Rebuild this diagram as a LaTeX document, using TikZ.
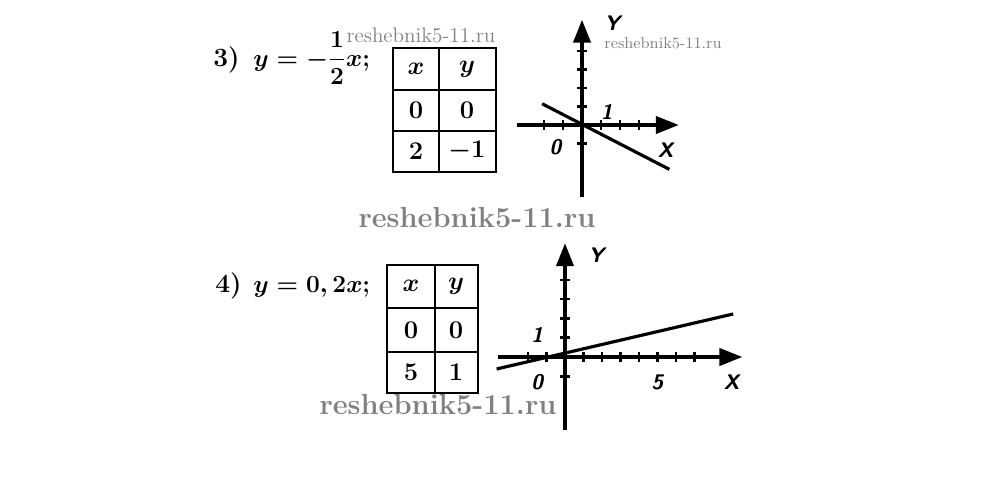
\RequirePackage{fix-cm}
\documentclass[tikz,border=0pt]{standalone}
\usepackage{amsmath}
\usetikzlibrary{arrows.meta}
\begin{document}
\begin{tikzpicture}[x=0.02cm,y=-0.02cm]
\tikzstyle{every node}=[font=\fontsize{14.5}{17}\selectfont\boldmath,inner sep=0pt]
\tikzstyle{num}=[font=\fontsize{15}{18}\selectfont\bfseries,anchor=base west]
\tikzstyle{eq}=[font=\fontsize{14}{17}\selectfont\boldmath,anchor=base west]
\tikzstyle{tab}=[line width=1.2pt]
\tikzstyle{axis}=[line width=2.2pt,-{Triangle[length=4.6mm,width=3.4mm]}]
\tikzstyle{tick}=[line width=1.4pt]
\tikzstyle{graph}=[line width=1.8pt]
\tikzstyle{lbl}=[font=\fontsize{12}{14}\selectfont\sffamily\bfseries\itshape]
\tikzstyle{wmbig}=[text=gray,font=\fontsize{16.5}{18}\selectfont\bfseries]
\tikzstyle{wmsmall}=[text=gray,font=\fontsize{12}{14}\selectfont]
\useasboundingbox (0,0) rectangle (1000,478);

% 3)
\node[num] (num3) at (213,66) {3)};
\node[eq] (eq3) at (253,66) {$y=-\dfrac{1}{2}x;$};
\draw[tab] (393,48) rectangle (496,172);
\draw[tab] (439,48) -- (439,172);
\draw[tab] (393,90) -- (496,90);
\draw[tab] (393,131) -- (496,131);
\node (t3x) at (416,69) {$x$};
\node (t3y) at (467,69) {$y$};
\node (t3a) at (416,110) {$0$};
\node (t3b) at (467,110) {$0$};
\node (t3c) at (416,151) {$2$};
\node (t3d) at (467,151) {$-1$};

\begin{scope}[shift={(582,125)},xscale=19,yscale=-18.5]
\coordinate (x3l) at (-3.4,0);
\coordinate (x3r) at (5.1,0);
\coordinate (y3b) at (0,-3.9);
\coordinate (y3t) at (0,5.7);
\draw[axis] (x3l) -- (x3r);
\draw[axis] (y3b) -- (y3t);
\foreach \i in {-2,-1,1,2,3} \draw[tick] (\i,-0.25) -- (\i,0.25);
\foreach \j in {-1,1,2,3,4} \draw[tick] (-0.25,\j) -- (0.25,\j);
\coordinate (g3a) at (-2.1,1.15);
\coordinate (g3b) at (4.6,-2.4);
\draw[graph] (g3a) -- (g3b);
\node[lbl] (ylab3) at (1.6,5.5) {Y};
\node[lbl] (xlab3) at (4.4,-1.35) {X};
\node[lbl] (zero3) at (-1.4,-1.2) {0};
\node[lbl] (one3) at (1.3,0.7) {1};
\end{scope}

% 4)
\node[num] (num4) at (215,292) {4)};
\node[eq] (eq4) at (253,292) {$y=0,2x;$};
\draw[tab] (387,265) rectangle (478,393);
\draw[tab] (435,265) -- (435,393);
\draw[tab] (387,308) -- (478,308);
\draw[tab] (387,352) -- (478,352);
\node (t4x) at (411,286) {$x$};
\node (t4y) at (456,286) {$y$};
\node (t4a) at (411,330) {$0$};
\node (t4b) at (456,330) {$0$};
\node (t4c) at (411,372) {$5$};
\node (t4d) at (456,372) {$1$};

\begin{scope}[shift={(565,357)},xscale=18.5,yscale=-19.3]
\coordinate (x4l) at (-3.6,0);
\coordinate (x4r) at (9.6,0);
\coordinate (y4b) at (0,-3.8);
\coordinate (y4t) at (0,5.9);
\draw[axis] (x4l) -- (x4r);
\draw[axis] (y4b) -- (y4t);
\foreach \i in {-2,-1,1,2,...,7} \draw[tick] (\i,-0.25) -- (\i,0.25);
\foreach \j in {-1,1,2,3,4} \draw[tick] (-0.25,\j) -- (0.25,\j);
\coordinate (g4a) at (-3.7,-0.62);
\coordinate (g4b) at (9.1,2.23);
\draw[graph] (g4a) -- (g4b);
\node[lbl] (ylab4) at (1.7,5.3) {Y};
\node[lbl] (xlab4) at (9.0,-1.3) {X};
\node[lbl] (zero4) at (-1.5,-1.3) {0};
\node[lbl] (one4) at (-1.5,1.15) {1};
\node[lbl] (five4) at (5,-1.3) {5};
\end{scope}

% watermarks
\node[wmsmall] (wm1) at (421,35) {reshebnik5-11.ru};
\node[wmsmall,font=\fontsize{9}{11}\selectfont] (wm2) at (663,43) {reshebnik5-11.ru};
\node[wmbig] (wm3) at (477,218) {reshebnik5-11.ru};
\node[wmbig] (wm4) at (438,405) {reshebnik5-11.ru};
\end{tikzpicture}
\end{document}
